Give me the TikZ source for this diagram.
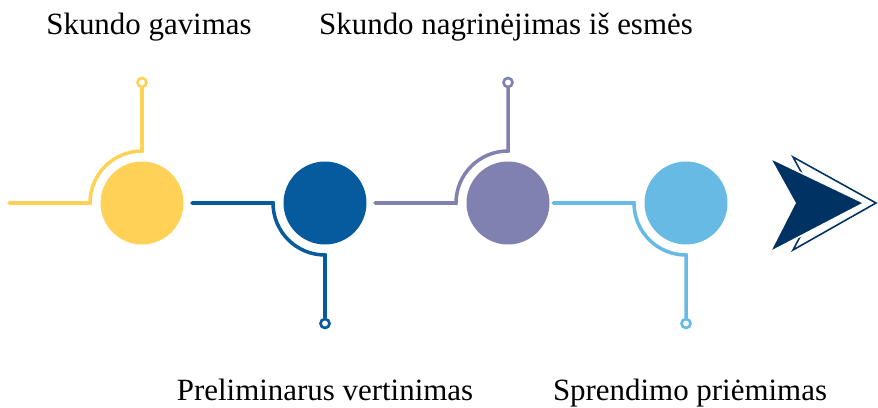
\documentclass[tikz,border=0pt]{standalone}
\usepackage{fontspec}
\setmainfont{Liberation Serif}
\definecolor{skgeltona}{HTML}{FFD257}
\definecolor{skmelyna}{HTML}{065A9E}
\definecolor{skvioletine}{HTML}{8080B1}
\definecolor{skzydra}{HTML}{67BAE3}
\definecolor{sktamsi}{HTML}{003263}
\tikzset{
  etapas/.style={circle, fill=#1, minimum size=1.66cm, inner sep=0pt},
  ziedas/.style={circle, draw=#1, line width=1.5pt, fill=white, minimum size=0.18cm, inner sep=0pt},
  linija/.style={draw=#1, line width=2pt, line cap=round},
  zyme/.style={font=\fontsize{17.6}{20}\selectfont, anchor=base, inner sep=0pt}
}
\begin{document}
\begin{tikzpicture}[x=0.02cm, y=-0.02cm]
  \useasboundingbox (0,0) rectangle (878,408);

  % etapai: numeris/x/spalva/kryptis
  \foreach \i/\x/\c/\k in {1/142/skgeltona/-1, 2/325/skmelyna/1, 3/508/skvioletine/-1, 4/686/skzydra/1} {
      \node[etapas=\c] (c\i) at (\x,203) {};
      \coordinate (s\i) at (\x-133,203);
      \node[ziedas=\c] (r\i) at (\x,203+\k*120.5) {};
      % jungtis su lanku
      \draw[linija=\c] (s\i) -- ++(81,0) arc[start angle=180, end angle=180-\k*90, radius=52] -- (r\i);
  }

  % rodykle
  \draw[sktamsi, line width=0.9pt, fill=white] (793,157) -- (876,203) -- (793,250) -- (818,203) -- cycle;
  \filldraw[fill=sktamsi, draw=white, line width=0.9pt] (770,158) -- (864,203) -- (770,252) -- (795,203) -- cycle;

  % pavadinimai
  \node[zyme] (l1) at (149,35) {Skundo gavimas};
  \node[zyme] (l2) at (325,400) {Preliminarus vertinimas};
  \node[zyme] (l3) at (506,35) {Skundo nagrinėjimas iš esmės};
  \node[zyme] (l4) at (690,400) {Sprendimo priėmimas};
\end{tikzpicture}
\end{document}
